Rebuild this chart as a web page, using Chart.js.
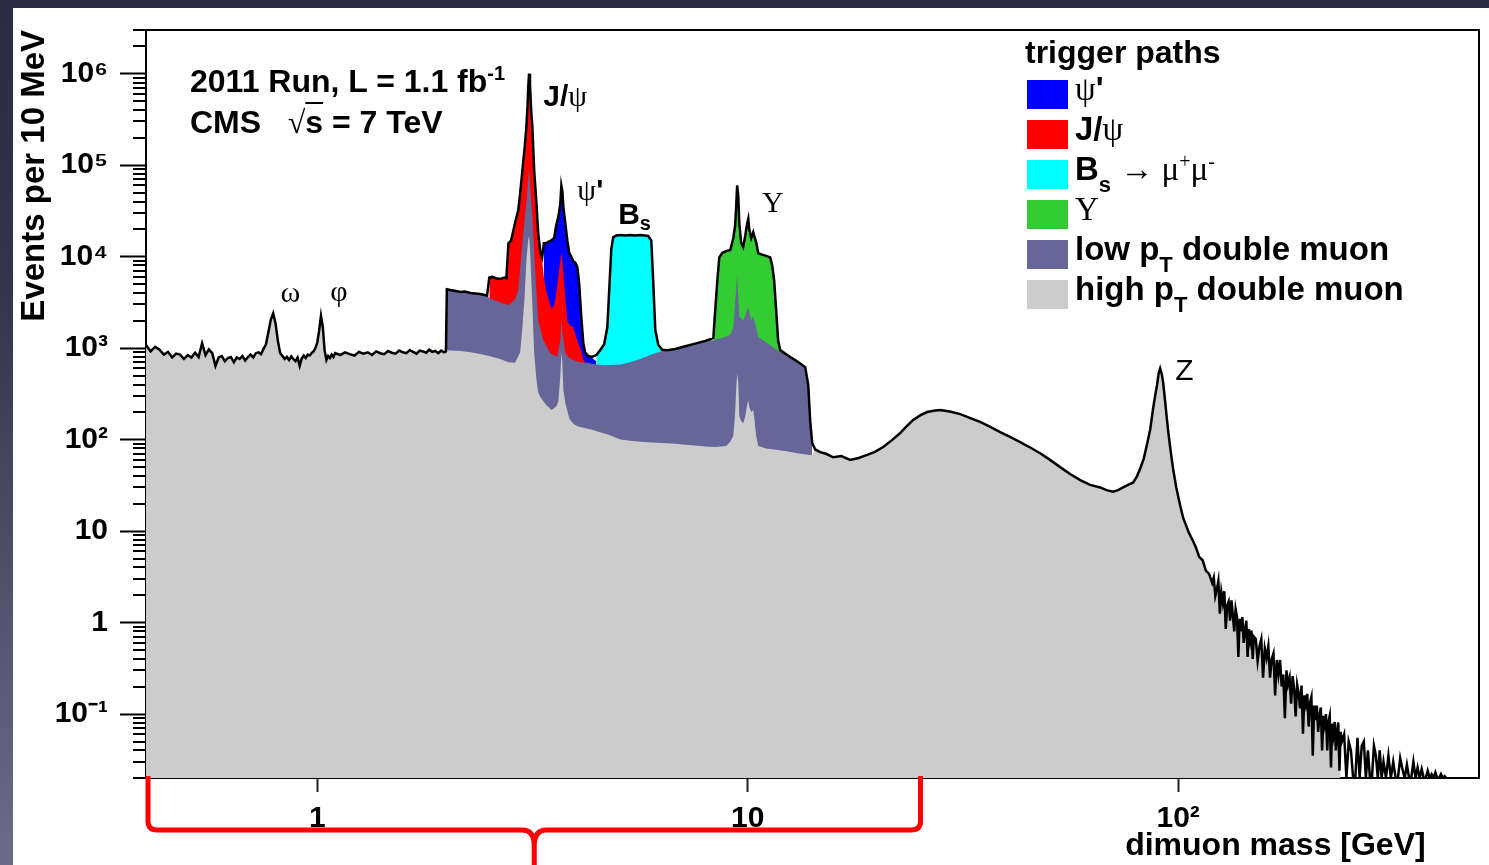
<!DOCTYPE html>
<html lang="en">
<head>
<meta charset="utf-8">
<title>CMS 2011 dimuon mass spectrum</title>
<script src="https://cdn.jsdelivr.net/npm/chart.js@4.4.1/dist/chart.umd.min.js"></script>
<style>
  html, body { margin: 0; padding: 0; }
  body {
    width: 1489px; height: 865px; overflow: hidden; position: relative;
    background: linear-gradient(to bottom, #2a2a44 0%, #35354f 35%, #6c6c88 100%);
    font-family: "Liberation Sans", Arial, sans-serif;
  }
  #card { position: absolute; left: 13px; top: 8px; width: 1476px; height: 857px; background: #fff; }
  #card canvas { position: absolute; left: 0; top: 0; }
  .run { position: absolute; left: 177px; font: bold 32px/32px "Liberation Sans", Arial, sans-serif; white-space: nowrap; color: #000; }
  .run sup { font-size: 20px; vertical-align: 12px; line-height: 0; }
  .gr { font-family: "Liberation Serif", "DejaVu Serif", serif; font-weight: normal; }
  .ovl { text-decoration: overline; text-decoration-thickness: 2px; }
  #legend { position: absolute; left: 1012px; top: 24px; width: 450px; color: #000; font: bold 33px "Liberation Sans", Arial, sans-serif; }
  #legend .head { height: 40px; line-height: 40px; white-space: nowrap; font-size: 32px; }
  #legend .row { position: relative; height: 40px; }
  #legend .sw { position: absolute; left: 2px; top: 8px; width: 41px; height: 29px; }
  #legend .lab { position: absolute; left: 50px; top: 0; line-height: 34px; white-space: nowrap; }
  #legend sub { font-size: 22px; vertical-align: -12px; line-height: 0; }
  #legend sup { font-size: 20px; vertical-align: 12px; line-height: 0; }
</style>
</head>
<body>
<div id="card">
  <canvas id="massChart" width="1476" height="857"></canvas>
  <div class="run" style="top:57px">2011 Run, L = 1.1 fb<sup>-1</sup></div>
  <div class="run" style="top:98px">CMS&nbsp;&nbsp; <span class="gr">√</span><span class="ovl">s</span> = 7 TeV</div>
  <div id="legend"><div class="head">trigger paths</div><div id="legendRows"></div></div>
</div>
<script>
// axis ranges and tick labels
const X_MIN = 0.4, X_MAX = 500;
const Y_MIN = 0.02, Y_MAX = 3e6;
const xTickValues = [1, 10, 100];
const xTickLabels = ['1', '10', '10²'];
const yTickValues = [0.1, 1, 10, 100, 1e3, 1e4, 1e5, 1e6];
const yTickLabels = ['10⁻¹', '1', '10', '10²', '10³', '10⁴', '10⁵', '10⁶'];

// all trigger paths together (top of the stack): dimuon mass [GeV] / events per 10 MeV
const massAll = [
  // 0.4 - 2 GeV, omega and phi
  0.40, 0.41, 0.42, 0.43, 0.44, 0.45, 0.46, 0.47, 0.48, 0.49,
  0.50, 0.51, 0.52, 0.53, 0.54, 0.55, 0.56, 0.57, 0.58, 0.59,
  0.60, 0.61, 0.62, 0.63, 0.64, 0.65, 0.66, 0.67, 0.68, 0.69,
  0.70, 0.71, 0.72, 0.73, 0.74, 0.75, 0.76, 0.77,
  0.78, 0.79, 0.80, 0.81, 0.82, 0.83, 0.84, 0.85, 0.86, 0.87,
  0.88, 0.89, 0.90, 0.91, 0.92, 0.93, 0.94, 0.95, 0.96, 0.97,
  0.98, 0.99, 1.00, 1.01, 1.02, 1.03, 1.04, 1.05, 1.06, 1.07,
  1.08, 1.09, 1.10,
  1.13, 1.16, 1.19, 1.22, 1.25, 1.28, 1.31, 1.34, 1.37, 1.40,
  1.43, 1.46, 1.49, 1.52, 1.55, 1.58, 1.61, 1.64, 1.67, 1.70,
  1.73, 1.76, 1.79, 1.82, 1.85, 1.88, 1.91, 1.94, 1.97, 1.99,
  // 2 - 15 GeV, quarkonia and Bs window
  2.00, 2.05, 2.10, 2.15, 2.20, 2.27, 2.33, 2.39, 2.45, 2.48,
  2.51, 2.55, 2.60, 2.66, 2.72, 2.75, 2.78, 2.82, 2.86, 2.89,
  2.93, 2.96, 2.99, 3.03, 3.06, 3.08, 3.09, 3.105, 3.12, 3.14,
  3.16, 3.19, 3.23, 3.26, 3.30, 3.33, 3.36, 3.40, 3.44, 3.50,
  3.55, 3.59, 3.63, 3.67, 3.69, 3.71, 3.73, 3.77, 3.81, 3.85,
  3.89, 3.93, 3.98, 4.02, 4.06, 4.10, 4.15, 4.19, 4.26, 4.35,
  4.45, 4.54, 4.64, 4.72, 4.77, 4.82, 4.87, 4.95, 5.06, 5.20,
  5.33, 5.48, 5.63, 5.75, 5.87, 5.97, 6.03, 6.10, 6.20, 6.33,
  6.50, 6.79, 7.16, 7.55, 7.97, 8.18, 8.32, 8.40, 8.50, 8.59,
  8.73, 8.92, 9.11, 9.26, 9.35, 9.40, 9.45, 9.51, 9.56, 9.66,
  9.76, 9.87, 9.97, 10.03, 10.08, 10.19, 10.30, 10.35, 10.46, 10.58,
  10.81, 11.04, 11.28, 11.40, 11.52, 11.65, 11.77, 11.90, 12.22, 12.55,
  12.89, 13.24, 13.60, 13.82, 13.97, 14.12, 14.35, 14.74,
  // 15 - 103 GeV, continuum and Z
  15.2, 15.8, 16.5, 17.3, 18.1, 18.95, 19.8, 20.64, 21.6, 22.61,
  23.4, 24.24, 25.2, 26.12, 27.0, 28.01, 29.5, 31.17, 32.9, 34.68,
  36.6, 38.6, 40.7, 42.95, 45.3, 47.8, 50.4, 53.19, 56.1, 59.21,
  62.5, 65.89, 68.2, 70.63, 72.5, 74.49, 76.5, 78.63, 80.1, 81.61,
  83.2, 84.72, 86.1, 87.48, 88.4, 89.37, 90.1, 90.83, 91.6, 92.3,
  93.29, 94.2, 95.0, 95.81, 96.6, 97.4, 99.0, 101.1, 102.7,
  // high mass tail
  104, 106, 108, 110, 112, 114, 116, 118, 120,
  121, 122, 123, 124, 125, 126, 127, 128, 129, 130,
  131, 132, 133, 134, 135, 136, 137, 138, 139, 140,
  141, 142, 143, 144, 145, 146, 147, 148, 149, 150,
  151.5, 153, 154.5, 156, 157.5, 159, 160.5, 162, 163.5, 165,
  166.5, 168, 169.5, 171, 172.5, 174, 175.5, 177, 178.5, 180,
  181.5, 183, 184.5, 186, 187.5, 189, 190.5, 192, 193.5, 195,
  196.5, 198, 199.5, 201, 202.5, 204, 205.5, 207, 208.5, 210,
  211.5, 213, 214.5, 216, 217.5, 219, 220.5, 222, 223.5, 225,
  226.5, 228, 229.5, 231, 232.5, 234, 235.5, 237, 238.5, 240,
  243, 246, 249, 252, 255, 258, 261, 264, 267, 270,
  273, 276, 279, 282, 285, 288, 291, 294, 297, 300,
  304, 308, 312, 316, 320, 324, 328, 332, 336, 340,
  344, 348, 352, 356, 360, 364, 368, 372, 376, 380,
  384, 388, 392, 396, 400, 404, 408, 412, 416, 420
];
const eventsAll = [
  1080, 920, 1030, 960, 850, 910, 790, 870, 850, 760,
  840, 790, 890, 800, 1130, 840, 970, 880, 640, 790,
  820, 720, 780, 800, 700, 790, 760, 820, 730, 800,
  850, 790, 880, 900, 860, 980, 1100, 1500,
  2050, 2400, 1850, 1200, 880, 820, 760, 800, 740, 810,
  760, 720, 790, 640, 770, 830, 780, 850, 830, 880,
  920, 1000, 1150, 1550, 2250, 1700, 950, 740, 820, 780,
  850, 800, 880,
  840, 900, 860, 830, 910, 870, 900, 840, 920, 880,
  860, 930, 890, 870, 940, 900, 880, 950, 910, 870,
  940, 920, 890, 960, 910, 930, 880, 940, 900, 920,

  4400, 4300, 4200, 4100, 4150, 4000, 3950, 3900, 3800, 3750,
  5900, 6000, 5800, 5700, 5900, 5800, 14000, 15000, 20000, 25000,
  32000, 49000, 80000, 150000, 260000, 450000, 700000, 1000000, 750000, 400000,
  260000, 90000, 38000, 18000, 11000, 9800, 14000, 14000, 14500, 15000,
  16000, 22000, 27000, 38000, 60000, 52000, 35000, 23000, 15000, 11000,
  10000, 9000, 8500, 7700, 5000, 2400, 1130, 900, 820, 800,
  840, 950, 1100, 1700, 4600, 12000, 16300, 17000, 17200, 17000,
  17200, 17000, 17200, 17000, 16800, 15000, 5500, 1570, 1080, 960,
  950, 980, 1050, 1120, 1200, 1250, 1290, 2500, 5500, 9800,
  11000, 11500, 11800, 16000, 22000, 35000, 60000, 45000, 23000, 14000,
  12700, 17000, 23000, 26000, 20000, 16000, 18500, 17000, 14400, 10900,
  10500, 10200, 9800, 8000, 5500, 2500, 1200, 950, 870, 800,
  740, 680, 620, 400, 160, 92, 78, 73,

  70, 64, 66, 60, 63, 68, 74, 83, 98, 118,
  140, 164, 185, 200, 207, 210, 203, 190, 172, 156,
  138, 121, 107, 94, 82, 71, 60, 50, 42, 36,
  32, 30, 28, 27, 28, 30, 32, 34, 39, 48,
  62, 90, 128, 220, 300, 400, 530, 600, 520, 420,
  260, 164, 115, 83, 62, 47, 30, 19, 14,

  12, 9.5, 8.0, 6.6, 5.2, 4.8, 3.7, 3.4, 2.7,
  3.1, 1.95, 2.3, 2.85, 1.25, 2.15, 1.65, 2.2, 0.85, 1.55,
  1.7, 1.05, 1.75, 1.2, 0.8, 1.4, 1.15, 0.42, 1.1, 0.8,
  1.15, 0.6, 0.83, 1.05, 0.42, 0.85, 0.64, 0.82, 0.4, 0.7,
  0.66, 0.38, 0.55, 0.66, 0.25, 0.52, 0.41, 0.55, 0.25, 0.4,
  0.46, 0.16, 0.39, 0.27, 0.39, 0.2, 0.27, 0.09, 0.3, 0.21,
  0.25, 0.13, 0.26, 0.19, 0.094, 0.21, 0.17, 0.115, 0.205, 0.061,
  0.16, 0.128, 0.166, 0.073, 0.134, 0.154, 0.035, 0.124, 0.086, 0.124,
  0.064, 0.095, 0.118, 0.04, 0.096, 0.077, 0.1, 0.04, 0.083, 0.096,
  0.026, 0.079, 0.06, 0.082, 0.04, 0.064, 0.081, 0.024, 0.064, 0.05,
  0.06, 0, 0.05, 0.04, 0, 0, 0.055, 0, 0.045, 0.05,
  0, 0.04, 0, 0, 0.045, 0.035, 0, 0.04, 0, 0.03,
  0, 0.035, 0, 0.03, 0, 0, 0.033, 0.025, 0, 0.028,
  0, 0, 0.03, 0, 0.026, 0, 0.025, 0, 0, 0.024,
  0, 0.022, 0, 0.023, 0, 0, 0.022, 0, 0.021, 0
];

// high pT double muon where it sits under the low pT band
const massHighPtBand = [
  2.00, 2.15, 2.27, 2.39, 2.51, 2.66, 2.78, 2.88, 2.96, 2.99,
  3.03, 3.06, 3.09, 3.105, 3.12, 3.14, 3.16, 3.19, 3.23, 3.26,
  3.30, 3.40, 3.50, 3.59, 3.63, 3.67, 3.69, 3.71, 3.73, 3.77,
  3.85, 3.93, 4.02, 4.15, 4.35, 4.54, 4.77, 5.06, 5.33, 5.63,
  5.97, 6.33, 6.79, 7.16, 7.55, 7.97, 8.40, 8.92, 9.11, 9.26,
  9.35, 9.40, 9.45, 9.51, 9.56, 9.66, 9.76, 9.87, 9.97, 10.03,
  10.08, 10.19, 10.30, 10.35, 10.46, 10.58, 11.04, 11.52, 12.22, 13.24,
  13.97, 14.12
];
const eventsHighPtBand = [
  950, 930, 900, 860, 820, 760, 700, 690, 900, 1500,
  3500, 9000, 15000, 17000, 12000, 6000, 3000, 900, 450, 330,
  290, 240, 210, 230, 260, 500, 880, 700, 350, 250,
  170, 150, 140, 135, 128, 120, 112, 100, 97, 95,
  93, 92, 90, 88, 86, 84, 83, 85, 95, 110,
  200, 350, 530, 420, 180, 160, 150, 180, 240, 270,
  230, 200, 210, 180, 110, 85, 80, 78, 75, 70,
  68, 68
];
const HIGH_PT_FILL_END = 239; // GeV, last filled bin of the high pT path

// low pT double muon (stacked on high pT)
const massLowPt = [
  2.00, 2.10, 2.20, 2.33, 2.45, 2.48, 2.51, 2.60, 2.72, 2.78,
  2.88, 2.93, 2.99, 3.03, 3.06, 3.09, 3.105, 3.12, 3.16, 3.21,
  3.26, 3.35, 3.48, 3.61, 3.67, 3.69, 3.71, 3.77, 3.85, 3.93,
  4.06, 4.24, 4.45, 4.64, 5.06, 5.33, 5.63, 5.97, 6.33, 6.79,
  7.16, 7.55, 7.97, 8.32, 8.73, 9.11, 9.26, 9.35, 9.45, 9.51,
  9.56, 9.76, 9.97, 10.03, 10.19, 10.30, 10.46, 10.58, 11.04, 11.52,
  11.90, 12.22, 12.55, 12.89, 13.24, 13.60, 13.82, 13.97, 14.12
];
const eventsLowPt = [
  4400, 4200, 4150, 3950, 3800, 3750, 3500, 3300, 3050, 2950,
  3400, 4300, 12700, 25000, 38000, 70000, 95000, 60000, 27000, 6600,
  2000, 1220, 880, 800, 1200, 2000, 1500, 880, 780, 740,
  700, 690, 660, 650, 660, 700, 760, 850, 930, 980,
  1050, 1120, 1200, 1220, 1300, 1390, 1700, 3100, 6300, 3500,
  2200, 2000, 2600, 2800, 2000, 2200, 1700, 1320, 1150, 1000,
  900, 870, 800, 740, 680, 620, 400, 160, 92
];

// J/psi path
const massJpsi = [
  2.51, 2.55, 2.60, 2.66, 2.72, 2.75, 2.78, 2.82, 2.86, 2.89,
  2.93, 2.96, 2.99, 3.03, 3.06, 3.08, 3.09, 3.105, 3.12, 3.14,
  3.16, 3.19, 3.23, 3.26, 3.30, 3.33, 3.36, 3.40, 3.44, 3.50,
  3.55, 3.59, 3.63, 3.67, 3.69, 3.71, 3.73, 3.77, 3.81, 3.85,
  3.93, 4.02, 4.10, 4.15, 4.19
];
const eventsJpsi = [
  5900, 6000, 5800, 5700, 5900, 5800, 14000, 15000, 20000, 25000,
  32000, 49000, 80000, 150000, 260000, 450000, 700000, 1000000, 750000, 400000,
  260000, 90000, 38000, 18000, 11000, 9100, 6000, 4300, 3500, 2700,
  2900, 4000, 6000, 9000, 11000, 9000, 6600, 3500, 2000, 1800,
  1700, 1200, 950, 750, 700
];

// psi' path
const massPsi2S = [
  3.36, 3.40, 3.44, 3.50, 3.55, 3.59, 3.63, 3.67, 3.69, 3.71,
  3.73, 3.77, 3.81, 3.85, 3.89, 3.93, 3.98, 4.02, 4.06, 4.10,
  4.15, 4.19, 4.26, 4.35, 4.45
];
const eventsPsi2S = [
  14000, 14000, 14500, 15000, 16000, 22000, 27000, 38000, 60000, 52000,
  35000, 23000, 15000, 11000, 10000, 9000, 8500, 7700, 5000, 2400,
  1130, 900, 820, 780, 720
];

// Bs -> mu mu path
const massBs = [
  4.45, 4.54, 4.64, 4.72, 4.77, 4.82, 4.87, 4.95, 5.06, 5.20,
  5.33, 5.48, 5.63, 5.75, 5.87, 5.97, 6.03, 6.10, 6.20, 6.33,
  6.50
];
const eventsBs = [
  840, 950, 1100, 1700, 4600, 12000, 16300, 17000, 17200, 17000,
  17200, 17000, 17200, 17000, 16800, 15000, 5500, 1570, 1080, 960,
  950
];

// Upsilon path
const massUpsilon = [
  8.32, 8.40, 8.50, 8.59, 8.73, 8.92, 9.11, 9.26, 9.35, 9.40,
  9.45, 9.51, 9.56, 9.66, 9.76, 9.87, 9.97, 10.03, 10.08, 10.19,
  10.30, 10.35, 10.46, 10.58, 10.81, 11.04, 11.28, 11.40, 11.52, 11.65,
  11.77, 11.90, 12.22, 12.55
];
const eventsUpsilon = [
  1290, 2500, 5500, 9800, 11000, 11500, 11800, 16000, 22000, 35000,
  60000, 45000, 23000, 14000, 12700, 17000, 23000, 26000, 20000, 16000,
  18500, 17000, 14400, 10900, 10500, 10200, 9800, 8000, 5500, 2500,
  1200, 950, 880, 810
];

[[massAll, eventsAll], [massHighPtBand, eventsHighPtBand], [massLowPt, eventsLowPt],
 [massJpsi, eventsJpsi], [massPsi2S, eventsPsi2S], [massBs, eventsBs], [massUpsilon, eventsUpsilon]]
  .forEach(([m, v], i) => {
    if (m.length !== v.length) throw new Error('series ' + i + ': ' + m.length + ' masses, ' + v.length + ' values');
  });

// empty bins sit on the floor of the log axis
const toPoints = (mass, events) => mass.map((x, i) => ({ x, y: events[i] > 0 ? events[i] : Y_MIN }));

const allPoints = toPoints(massAll, eventsAll);
const highPtPoints = [
  ...allPoints.filter(p => p.x < 2),
  ...toPoints(massHighPtBand, eventsHighPtBand),
  ...allPoints.filter(p => p.x > 14.2 && p.x <= HIGH_PT_FILL_END)
];

const SANS = '"Liberation Sans", Arial, sans-serif';
const SERIF = '"Liberation Serif", "DejaVu Serif", serif';

Chart.defaults.font.family = SANS;
Chart.defaults.color = '#000';

function area(label, points, color) {
  return {
    label, data: points, fill: 'start',
    backgroundColor: color, borderColor: 'rgba(0,0,0,0)', borderWidth: 0, pointRadius: 0
  };
}

// index 0 is painted last, so it ends up on top
const datasets = [
  { label: 'all paths', data: allPoints, fill: false,
    borderColor: '#000', borderWidth: 2.5, pointRadius: 0 },
  area('high pT double muon', highPtPoints, '#cccccc'),
  area('low pT double muon', toPoints(massLowPt, eventsLowPt), '#666699'),
  area('J/ψ', toPoints(massJpsi, eventsJpsi), '#ff0000'),
  area("ψ'", toPoints(massPsi2S, eventsPsi2S), '#0000ff'),
  area('Bs → μ+μ-', toPoints(massBs, eventsBs), '#00ffff'),
  area('Υ', toPoints(massUpsilon, eventsUpsilon), '#33cc33')
];

// legend rows, top to bottom
const legendOrder = [4, 3, 5, 6, 2, 1];
const legendMarkup = [
  '<span class="gr">ψ</span>\'',
  'J/<span class="gr">ψ</span>',
  'B<sub>s</sub> <span class="gr">→ μ<sup>+</sup>μ<sup>-</sup></span>',
  '<span class="gr">Υ</span>',
  'low p<sub>T</sub> double muon',
  'high p<sub>T</sub> double muon'
];

// resonance names next to the peaks (text start, baseline)
const peakNotes = [
  { mass: 0.821, events: 3180, parts: [['ω', '30px ' + SERIF]] },
  { mass: 1.072, events: 3260, parts: [['φ', '30px ' + SERIF]] },
  { mass: 3.35, events: 4.4e5, parts: [['J/', 'bold 30px ' + SANS], ['ψ', '30px ' + SERIF]] },
  { mass: 4.02, events: 4.2e4, parts: [['ψ', '30px ' + SERIF], ["'", 'bold 30px ' + SANS]] },
  { mass: 5.0, events: 2.3e4, parts: [['B', 'bold 30px ' + SANS], ['s', 'bold 20px ' + SANS, 6]] },
  { mass: 10.8, events: 3.05e4, parts: [['Υ', '30px ' + SERIF]] },
  { mass: 98.4, events: 448, parts: [['Z', '30px ' + SANS]] }
];

const braceSpan = [0.4, 25.2];

const framePlugin = {
  id: 'frame',
  beforeDatasetsDraw(chart) {
    const { ctx, chartArea: a } = chart;
    ctx.save();
    ctx.strokeStyle = '#000';
    ctx.lineWidth = 2;
    ctx.strokeRect(a.left, a.top, a.right - a.left, a.bottom - a.top);
    ctx.restore();
  }
};

const minorTicks = {
  id: 'minorTicks',
  afterDraw(chart) {
    const { ctx, chartArea: a, scales: { y } } = chart;
    ctx.save();
    ctx.strokeStyle = '#000';
    ctx.lineWidth = 2;
    ctx.beginPath();
    for (let e = -2; e <= 6; e++) {
      for (let k = 2; k <= 9; k++) {
        const v = k * Math.pow(10, e);
        if (v < Y_MIN || v > Y_MAX) continue;
        const py = Math.round(y.getPixelForValue(v));
        ctx.moveTo(a.left - 13, py);
        ctx.lineTo(a.left, py);
      }
    }
    ctx.stroke();
    ctx.restore();
  }
};

const peakLabels = {
  id: 'peakLabels',
  afterDatasetsDraw(chart) {
    const { ctx, scales: { x, y } } = chart;
    ctx.save();
    ctx.fillStyle = '#000';
    ctx.textBaseline = 'alphabetic';
    peakNotes.forEach(note => {
      let px = x.getPixelForValue(note.mass);
      const py = y.getPixelForValue(note.events);
      note.parts.forEach(([text, font, drop]) => {
        ctx.font = font;
        ctx.fillText(text, px, py + (drop || 0));
        px += ctx.measureText(text).width;
      });
    });
    ctx.restore();
  }
};

const bracePlugin = {
  id: 'brace',
  afterDraw(chart) {
    const { ctx, chartArea: a, scales: { x } } = chart;
    const x0 = x.getPixelForValue(braceSpan[0]) + 2;
    const x1 = x.getPixelForValue(braceSpan[1]);
    const xm = (x0 + x1) / 2;
    const top = a.bottom - 2, mid = a.bottom + 52, end = chart.height, r = 9;
    ctx.save();
    ctx.strokeStyle = '#ff0000';
    ctx.lineWidth = 5;
    ctx.lineJoin = 'round';
    ctx.beginPath();
    ctx.moveTo(x0, top);
    ctx.lineTo(x0, mid - r);
    ctx.quadraticCurveTo(x0, mid, x0 + r, mid);
    ctx.lineTo(xm - 12, mid);
    ctx.quadraticCurveTo(xm, mid, xm, mid + 16);
    ctx.lineTo(xm, end);
    ctx.moveTo(x1, top);
    ctx.lineTo(x1, mid - r);
    ctx.quadraticCurveTo(x1, mid, x1 - r, mid);
    ctx.lineTo(xm + 12, mid);
    ctx.quadraticCurveTo(xm, mid, xm, mid + 16);
    ctx.stroke();
    ctx.restore();
  }
};

const htmlLegend = {
  id: 'htmlLegend',
  afterUpdate(chart) {
    const box = document.getElementById('legendRows');
    box.innerHTML = '';
    legendOrder.forEach((idx, i) => {
      const ds = chart.data.datasets[idx];
      const row = document.createElement('div');
      row.className = 'row';
      const sw = document.createElement('span');
      sw.className = 'sw';
      sw.style.background = ds.backgroundColor;
      const lab = document.createElement('span');
      lab.className = 'lab';
      lab.innerHTML = legendMarkup[i];
      row.append(sw, lab);
      box.append(row);
    });
  }
};

const ctx = document.getElementById('massChart').getContext('2d');

const massChart = new Chart(ctx, {
  type: 'line',
  data: { datasets },
  options: {
    responsive: false,
    animation: false,
    layout: { padding: { top: 22, right: 10, left: 0, bottom: 0 } },
    plugins: { legend: { display: false }, tooltip: { enabled: false } },
    scales: {
      x: {
        type: 'logarithmic',
        min: X_MIN,
        max: X_MAX,
        afterBuildTicks: s => { s.ticks = xTickValues.map(value => ({ value })); },
        afterFit: s => { s.height = 87; s.paddingLeft = 0; s.paddingRight = 0; },
        ticks: {
          autoSkip: false, maxRotation: 0, padding: 9,
          font: { size: 30, weight: 'bold' },
          callback: (v, i) => xTickLabels[i]
        },
        grid: { drawOnChartArea: false, drawTicks: true, tickLength: 14, tickWidth: 2, tickColor: '#222' },
        border: { display: false },
        title: {
          display: true, text: 'dimuon mass [GeV]      ', align: 'end',
          font: { size: 32, weight: 'bold' }, padding: { top: 0, bottom: 0 }
        }
      },
      y: {
        type: 'logarithmic',
        min: Y_MIN,
        max: Y_MAX,
        afterBuildTicks: s => { s.ticks = yTickValues.map(value => ({ value })); },
        afterFit: s => { s.width = 133; s.paddingTop = 0; s.paddingBottom = 0; },
        ticks: {
          autoSkip: false, padding: 12,
          font: { size: 30, weight: 'bold' },
          callback: (v, i) => yTickLabels[i]
        },
        grid: { drawOnChartArea: false, drawTicks: true, tickLength: 26, tickWidth: 2, tickColor: '#000' },
        border: { display: false },
        title: {
          display: true, text: 'Events per 10 MeV', align: 'end',
          font: { size: 33, weight: 'bold' }, padding: { top: 2, bottom: 0 }
        }
      }
    }
  },
  plugins: [framePlugin, minorTicks, peakLabels, bracePlugin, htmlLegend]
});
</script>
</body>
</html>
